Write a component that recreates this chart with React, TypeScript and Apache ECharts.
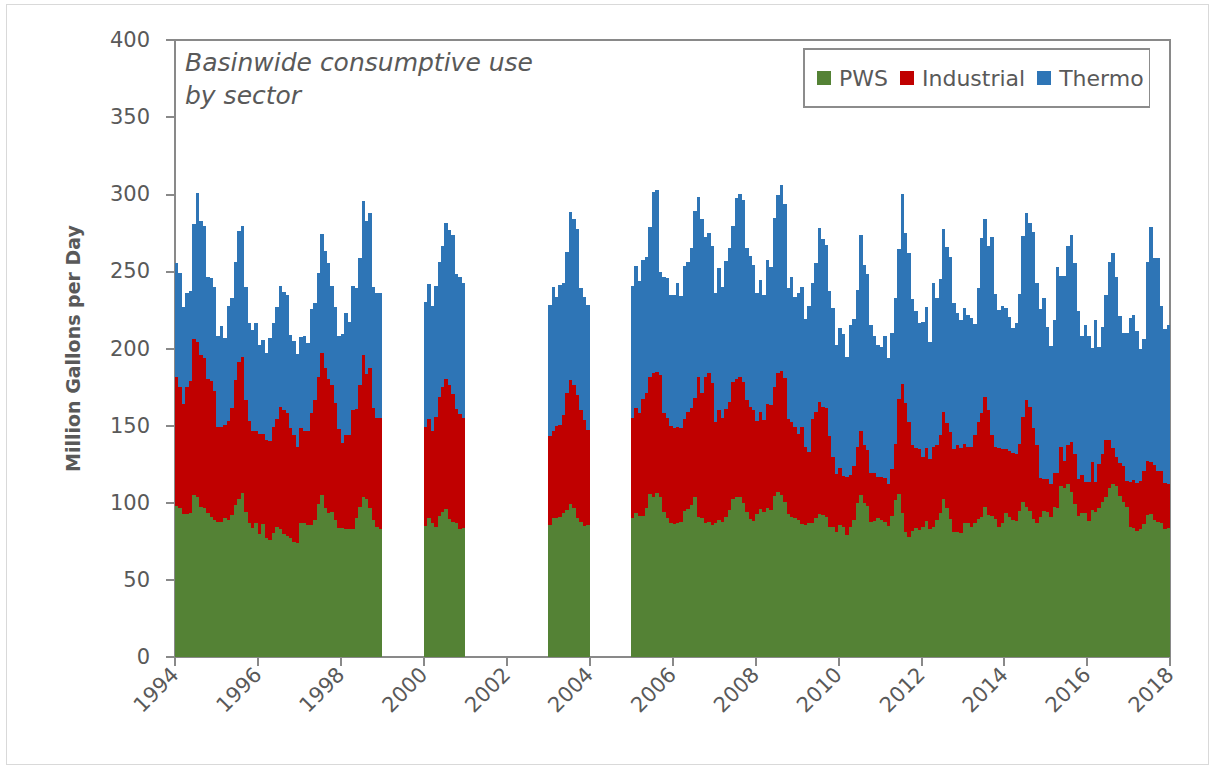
import React, { useEffect, useRef } from "react";
import * as echarts from "echarts";

// Monthly consumptive use (million gallons per day), Jan..Dec for each year listed in dataYears.
const dataYears = [1994, 1995, 1996, 1997, 1998, 2000, 2003, 2005, 2006, 2007, 2008, 2009, 2010, 2011, 2012, 2013, 2014, 2015, 2016, 2017];

const pws = [
  97.9, 96.3, 92.7, 92.7, 93.5, 105.0, 103.9, 97.0, 96.3, 93.1, 90.5, 88.8,
  87.7, 87.7, 89.9, 88.8, 92.0, 98.5, 102.2, 106.5, 94.2, 86.6, 83.4, 86.6,
  79.5, 86.0, 77.3, 75.8, 80.1, 84.0, 82.7, 79.7, 78.4, 76.9, 74.7, 74.1,
  86.6, 86.6, 85.5, 85.5, 88.8, 99.2, 105.0, 96.3, 93.1, 94.2, 88.8, 83.4,
  83.4, 82.7, 82.7, 82.7, 89.9, 97.4, 103.9, 102.2, 96.3, 88.8, 84.5, 82.7,
  84.9, 89.9, 87.1, 84.5, 91.4, 94.2, 95.7, 89.2, 87.7, 86.6, 82.7, 83.4,
  85.5, 89.9, 89.9, 90.5, 93.1, 95.3, 99.2, 96.3, 89.9, 87.7, 84.9, 85.5,
  89.9, 93.1, 91.4, 91.4, 96.3, 105.6, 103.9, 106.5, 103.5, 94.2, 89.9, 87.1,
  86.2, 86.6, 87.7, 94.8, 95.7, 98.5, 103.9, 90.9, 89.9, 87.1, 87.7, 85.5,
  86.6, 88.8, 87.7, 90.5, 95.3, 102.2, 103.9, 103.9, 100.0, 94.2, 89.2, 88.3,
  92.7, 95.7, 94.2, 96.3, 95.3, 104.3, 107.1, 105.0, 100.7, 92.7, 90.5, 89.9,
  88.8, 86.2, 85.5, 87.1, 86.6, 89.9, 92.7, 92.0, 90.9, 84.5, 84.5, 81.2,
  85.5, 84.0, 79.1, 84.5, 88.8, 100.0, 105.0, 100.0, 97.9, 87.7, 88.3, 89.9,
  88.8, 87.7, 84.9, 91.4, 101.7, 105.6, 93.1, 81.2, 77.5, 81.9, 83.4, 82.3,
  84.5, 88.3, 82.7, 84.5, 88.8, 93.1, 102.2, 96.3, 89.2, 81.2, 81.2, 80.6,
  86.6, 86.6, 84.5, 87.1, 89.2, 90.5, 97.4, 92.0, 91.4, 89.2, 84.5, 87.1,
  93.1, 90.9, 88.8, 88.3, 94.8, 100.7, 97.4, 94.8, 89.2, 86.6, 90.9, 94.8,
  94.2, 90.5, 97.0, 96.3, 110.8, 109.3, 112.1, 107.1, 99.2, 91.4, 93.1, 93.1,
  88.3, 95.3, 94.2, 96.3, 100.7, 103.5, 109.3, 112.1, 110.8, 104.3, 100.7, 97.4,
  84.0, 83.4, 81.9, 82.7, 86.2, 92.0, 92.7, 88.8, 87.7, 87.1, 82.7, 83.4,
];

const industrial = [
  83.8, 78.9, 71.3, 82.5, 85.4, 101.1, 100.5, 98.8, 97.3, 86.9, 88.4, 83.6,
  61.2, 61.6, 60.5, 64.4, 69.2, 81.1, 89.2, 88.2, 72.4, 66.6, 63.3, 60.1,
  65.0, 58.5, 63.3, 64.4, 69.2, 70.1, 79.6, 80.4, 79.5, 71.3, 69.2, 62.2,
  61.6, 60.1, 61.2, 72.4, 77.8, 82.1, 92.3, 90.8, 86.9, 82.1, 76.0, 64.2,
  55.1, 61.2, 61.2, 77.4, 70.6, 78.9, 91.9, 81.0, 90.8, 72.4, 70.2, 72.0,
  64.0, 64.1, 59.6, 70.8, 77.3, 80.6, 84.7, 87.1, 82.8, 73.9, 74.6, 71.3,
  57.7, 56.8, 59.8, 59.9, 63.7, 76.0, 80.4, 80.0, 79.9, 72.4, 68.7, 61.6,
  64.8, 68.1, 66.5, 75.6, 75.0, 76.1, 80.4, 78.4, 79.3, 63.7, 64.8, 62.6,
  62.0, 62.7, 60.5, 59.3, 63.3, 62.7, 63.8, 90.8, 81.0, 94.6, 96.2, 91.9,
  65.9, 71.3, 67.0, 70.0, 70.2, 76.3, 76.1, 77.8, 78.5, 72.4, 73.1, 71.8,
  60.5, 63.3, 59.4, 67.7, 68.0, 70.5, 77.2, 80.6, 79.9, 61.4, 62.0, 59.4,
  55.7, 62.7, 50.8, 46.0, 67.5, 69.1, 72.8, 69.8, 70.3, 58.7, 45.3, 37.4,
  36.8, 33.3, 37.3, 33.4, 35.0, 36.3, 41.7, 37.4, 36.3, 31.3, 30.7, 27.0,
  27.6, 28.1, 27.2, 30.2, 36.4, 61.4, 83.8, 83.6, 75.0, 55.5, 51.8, 52.3,
  44.9, 46.9, 45.4, 51.8, 48.6, 50.8, 56.8, 55.6, 56.9, 53.4, 56.2, 54.6,
  51.5, 49.7, 51.8, 56.8, 63.3, 67.9, 70.9, 68.1, 52.5, 47.1, 50.7, 47.5,
  41.5, 42.8, 43.6, 43.3, 43.3, 55.1, 69.2, 67.0, 59.0, 50.8, 24.9, 20.6,
  20.9, 21.6, 22.0, 22.7, 25.5, 17.9, 25.3, 32.5, 32.4, 23.7, 24.8, 20.5,
  25.3, 31.3, 19.4, 28.8, 30.9, 37.1, 31.3, 23.1, 18.6, 21.6, 23.1, 16.9,
  29.6, 31.3, 31.1, 31.6, 34.6, 35.2, 33.9, 35.6, 33.1, 33.7, 29.8, 28.7,
];

const thermo = [
  73.5, 73.5, 63.0, 60.6, 58.3, 74.4, 96.6, 87.0, 85.8, 66.5, 67.1, 67.2,
  59.1, 65.2, 56.1, 74.3, 71.8, 76.7, 84.7, 84.7, 73.0, 63.5, 65.3, 70.0,
  57.7, 61.0, 56.7, 66.8, 67.0, 73.0, 78.2, 76.7, 76.7, 60.5, 61.1, 60.1,
  59.4, 61.4, 56.6, 67.5, 62.6, 67.4, 76.7, 76.1, 75.6, 64.2, 61.8, 60.5,
  70.6, 78.9, 73.5, 80.4, 78.5, 82.1, 100.0, 99.6, 100.5, 78.4, 81.0, 81.5,
  81.4, 87.8, 80.8, 85.2, 87.6, 91.6, 101.1, 100.5, 103.0, 87.5, 89.2, 87.5,
  85.0, 92.9, 83.4, 90.7, 85.4, 91.4, 109.1, 107.4, 107.4, 78.9, 80.0, 81.1,
  85.8, 92.2, 86.0, 90.3, 88.2, 96.8, 117.3, 117.8, 67.0, 88.6, 90.7, 84.9,
  86.4, 93.3, 85.8, 99.3, 97.3, 103.7, 121.6, 116.3, 112.8, 90.3, 91.1, 89.0,
  83.7, 91.8, 84.9, 96.4, 99.4, 100.9, 117.3, 118.4, 117.5, 98.3, 97.6, 94.0,
  83.0, 85.4, 81.0, 93.3, 89.3, 109.5, 115.2, 120.4, 113.0, 84.9, 93.6, 83.8,
  91.2, 90.7, 82.6, 94.4, 88.5, 96.2, 112.4, 108.9, 105.9, 94.3, 96.2, 83.6,
  90.7, 92.1, 78.3, 97.3, 95.1, 101.6, 126.8, 116.7, 114.1, 96.2, 89.1, 85.3,
  84.3, 92.3, 81.5, 88.6, 94.4, 97.3, 123.2, 110.2, 109.2, 94.4, 89.3, 82.1,
  88.0, 91.4, 76.3, 106.3, 95.1, 100.9, 118.2, 114.1, 113.4, 95.1, 85.4, 83.2,
  87.9, 85.4, 83.2, 71.9, 86.5, 113.0, 115.4, 106.3, 128.6, 99.0, 89.7, 92.9,
  91.4, 86.9, 80.6, 84.7, 97.2, 117.1, 121.0, 119.3, 127.5, 104.8, 109.6, 117.1,
  99.0, 89.5, 99.4, 133.6, 110.7, 119.8, 129.0, 133.9, 123.6, 109.4, 90.2, 101.6,
  94.5, 73.5, 104.8, 76.1, 82.5, 94.0, 115.7, 126.9, 116.7, 95.1, 86.4, 95.9,
  105.9, 107.0, 98.5, 85.1, 85.1, 129.1, 151.9, 134.0, 137.6, 106.7, 99.9, 103.1,
];

const firstYear = 1994;
const lastYear = 2018; // axis end (exclusive of data)
const yTicks = { min: 0, max: 400, interval: 50 };
const xTicks = { min: 1994, max: 2018, interval: 2 };

const seriesNames = ["PWS", "Industrial", "Thermo"];
const seriesColors = ["#548235", "#C00000", "#2E75B6"];

function buildMonthly(values: number[]): (number | null)[] {
  const out: (number | null)[] = [];
  for (let y = firstYear; y < lastYear; y++) {
    const idx = dataYears.indexOf(y);
    for (let m = 0; m < 12; m++) {
      out.push(idx >= 0 ? values[idx * 12 + m] : null);
    }
  }
  return out;
}

function monthLabels(): string[] {
  const out: string[] = [];
  for (let y = firstYear; y < lastYear; y++) {
    for (let m = 1; m <= 12; m++) out.push(`${y}-${m < 10 ? "0" + m : m}`);
  }
  return out;
}

const FONT = "'DejaVu Sans', 'Open Sans', sans-serif";
const TEXT = "#595959";
const AXIS = "#898989";

export default function App() {
  const ref = useRef<HTMLDivElement>(null);

  useEffect(() => {
    if (!ref.current) return;
    const chart = echarts.init(ref.current, undefined, { renderer: "svg" });
    const months = monthLabels();
    const values = [pws, industrial, thermo];

    chart.setOption({
      animation: false,
      backgroundColor: "#ffffff",
      textStyle: { fontFamily: FONT },
      title: {
        text: "Basinwide consumptive use\nby sector",
        left: 180,
        top: 41,
        textStyle: {
          fontFamily: FONT,
          fontStyle: "italic",
          fontWeight: "normal",
          fontSize: 25,
          lineHeight: 33,
          color: TEXT,
        },
      },
      legend: {
        data: seriesNames,
        left: 804,
        top: 49,
        icon: "rect",
        itemWidth: 14,
        itemHeight: 14,
        itemGap: 12,
        padding: [18, 6, 18, 13],
        borderColor: "#8c8c8c",
        borderWidth: 1.5,
        textStyle: { fontFamily: FONT, fontSize: 22, color: TEXT, padding: [0, 0, 0, 3] },
      },
      grid: {
        left: 175,
        right: 44,
        top: 40,
        bottom: 114,
        show: true,
        borderColor: AXIS,
        borderWidth: 1.5,
      },
      xAxis: [
        {
          type: "category",
          data: months,
          boundaryGap: true,
          axisLine: { show: false },
          axisTick: { show: false },
          axisLabel: { show: false },
          splitLine: { show: false },
        },
        {
          type: "value",
          position: "bottom",
          min: xTicks.min,
          max: xTicks.max,
          interval: xTicks.interval,
          axisLine: { show: true, lineStyle: { color: AXIS, width: 2 } },
          axisTick: { show: true, length: 9, lineStyle: { color: AXIS, width: 2 } },
          axisLabel: {
            rotate: 45,
            fontFamily: FONT,
            fontSize: 21,
            color: TEXT,
            margin: 14,
            formatter: (v: number) => String(v),
          },
          splitLine: { show: false },
        },
      ],
      yAxis: {
        type: "value",
        min: yTicks.min,
        max: yTicks.max,
        interval: yTicks.interval,
        name: "Million Gallons per Day",
        nameLocation: "middle",
        nameRotate: 90,
        nameGap: 93,
        nameTextStyle: { fontFamily: FONT, fontSize: 19, fontWeight: "bold", color: TEXT },
        axisLine: { show: true, lineStyle: { color: AXIS, width: 2 } },
        axisTick: { show: true, length: 9, lineStyle: { color: AXIS, width: 2 } },
        axisLabel: { fontFamily: FONT, fontSize: 21, color: TEXT, margin: 25 },
        splitLine: { show: false },
      },
      series: seriesNames.map((name, i) => ({
        name,
        type: "bar",
        stack: "use",
        xAxisIndex: 0,
        barCategoryGap: "0%",
        barGap: "0%",
        data: buildMonthly(values[i]),
        itemStyle: { color: seriesColors[i], borderWidth: 0 },
        emphasis: { disabled: true },
      })),
      graphic: [
        {
          type: "rect",
          left: 4,
          top: 2,
          shape: { width: 1202, height: 760 },
          style: { fill: "none", stroke: "#d9d9d9", lineWidth: 1 },
          silent: true,
          z: -1,
        },
      ],
    });

    return () => chart.dispose();
  }, []);

  return (
    <>
      <style>{`.use-chart path { shape-rendering: crispEdges; }`}</style>
      <div
        ref={ref}
        className="use-chart"
        style={{ position: "absolute", left: 0, top: 0, width: 1214, height: 771 }}
      />
    </>
  );
}
